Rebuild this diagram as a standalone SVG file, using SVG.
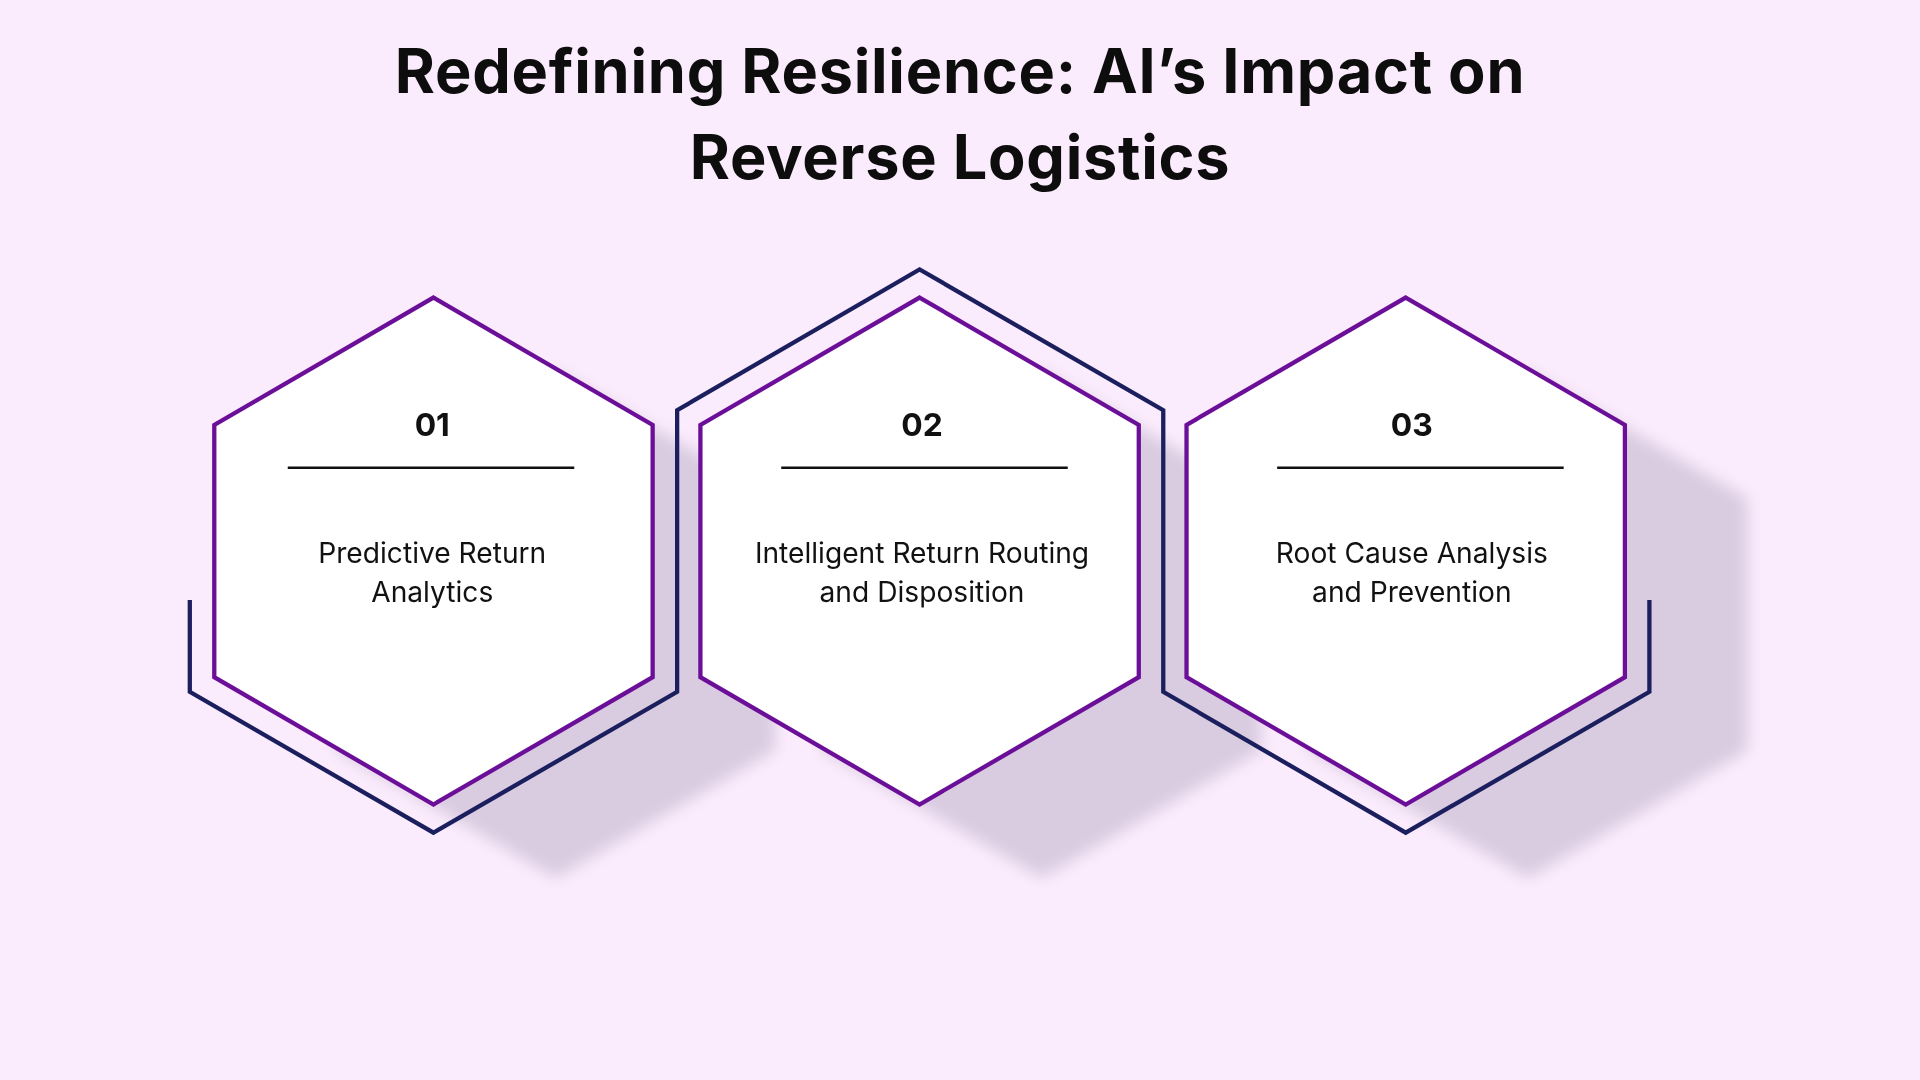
<svg xmlns="http://www.w3.org/2000/svg" width="1920" height="1080" viewBox="0 0 1920 1080">
<defs>
<style>
.hex{fill:#fff;stroke:#6b0f99;stroke-width:3.5}
.sh{fill:#d9cbe0}
.num{font-family:Inter,"Noto Sans",sans-serif;font-weight:700;font-size:26px;fill:#111;text-anchor:middle}
.lbl{font-family:Inter,"Noto Sans",sans-serif;font-size:23px;fill:#111;text-anchor:middle}
.title{font-family:Inter,"Noto Sans",sans-serif;font-weight:700;font-size:50px;letter-spacing:0.6px;fill:#0d0d0d;text-anchor:middle}
.rule{stroke:#111;stroke-width:2}
</style>
<filter id="blur" x="-20%" y="-20%" width="140%" height="140%"><feGaussianBlur stdDeviation="6"/></filter>
<polygon id="hx" points="0,-207 179,-103 179,103 0,207 -179,103 -179,-103"/>
</defs>
<rect width="1920" height="1080" fill="#fbecfd"/>
<g transform="scale(1.22449)">
<g id="title">
<text class="title" x="784" y="76">Redefining Resilience: AI’s Impact on</text>
<text class="title" x="784" y="146">Reverse Logistics</text>
</g>
<g id="shadows" filter="url(#blur)">
<use href="#hx" class="sh" transform="translate(454,510)"/>
<use href="#hx" class="sh" transform="translate(851,510)"/>
<use href="#hx" class="sh" transform="translate(1248,510)"/>
</g>
<g id="connectors">
<path d="M155,490 V565 L354,680 L553,565 V335 L751,220 L950,335 V565 L1148,680 L1347,565 V490" fill="none" stroke="#1b1f5e" stroke-width="3.5"/>
</g>
<g id="node1">
<use href="#hx" class="hex" transform="translate(354,450)"/>
<text class="num" x="353" y="356">01</text>
<line class="rule" x1="235" y1="382" x2="469" y2="382"/>
<text class="lbl" x="353" y="460">Predictive Return</text>
<text class="lbl" x="353" y="492">Analytics</text>
</g>
<g id="node2">
<use href="#hx" class="hex" transform="translate(751,450)"/>
<text class="num" x="753" y="356">02</text>
<line class="rule" x1="638" y1="382" x2="872" y2="382"/>
<text class="lbl" x="753" y="460">Intelligent Return Routing</text>
<text class="lbl" x="753" y="492">and Disposition</text>
</g>
<g id="node3">
<use href="#hx" class="hex" transform="translate(1148,450)"/>
<text class="num" x="1153" y="356">03</text>
<line class="rule" x1="1043" y1="382" x2="1277" y2="382"/>
<text class="lbl" x="1153" y="460">Root Cause Analysis</text>
<text class="lbl" x="1153" y="492">and Prevention</text>
</g>
</g>
</svg>
